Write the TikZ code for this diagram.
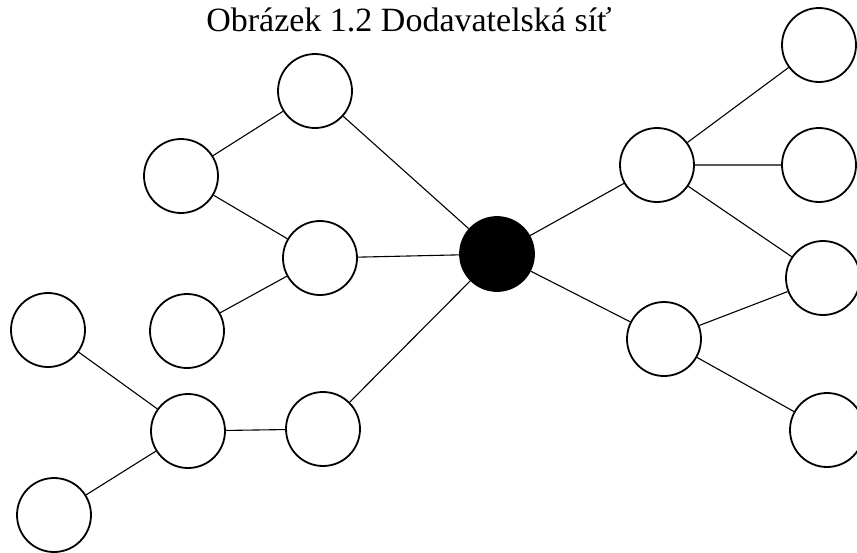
\documentclass[tikz,border=0pt]{standalone}
\usepackage{fontspec}
\setmainfont{Liberation Serif}
\begin{document}
\begin{tikzpicture}[x=1pt,y=-1pt,
  firm/.style={circle,draw=black,line width=1.8pt,fill=white,minimum size=74pt,inner sep=0pt},
  hub/.style={firm,fill=black},
  link/.style={draw=black,line width=1.1pt}]
\clip (0,0) rectangle (857,552);
\fill[white] (0,0) rectangle (857,552);
\node[font=\fontsize{34}{40}\selectfont,anchor=base,inner sep=0pt] (title) at (409,31) {Obrázek 1.2 Dodavatelská síť};
% suppliers on the left
\node[firm] (a) at (315,91) {};
\node[firm] (b) at (181,176) {};
\node[firm] (c) at (320,258) {};
\node[firm] (d) at (187,331) {};
\node[firm] (e) at (48,330) {};
\node[firm] (f) at (188,431) {};
\node[firm] (g) at (323,429) {};
\node[firm] (h) at (54,515) {};
% focal company
\node[hub] (m) at (497,254) {};
% customers on the right
\node[firm] (p) at (657,165) {};
\node[firm] (q) at (819,45) {};
\node[firm] (r) at (819,165) {};
\node[firm] (s) at (823,278) {};
\node[firm] (t) at (664,339) {};
\node[firm] (u) at (827,430) {};
% links of the supply network
\path[link] (a) -- (b) (b) -- (c) (c) -- (d) (c) -- (m) (a) -- (m)
  (g) -- (m) (f) -- (g) (e) -- (f) (f) -- (h)
  (m) -- (p) (m) -- (t) (p) -- (q) (p) -- (r) (p) -- (s)
  (t) -- (s) (t) -- (u);
\end{tikzpicture}
\end{document}
